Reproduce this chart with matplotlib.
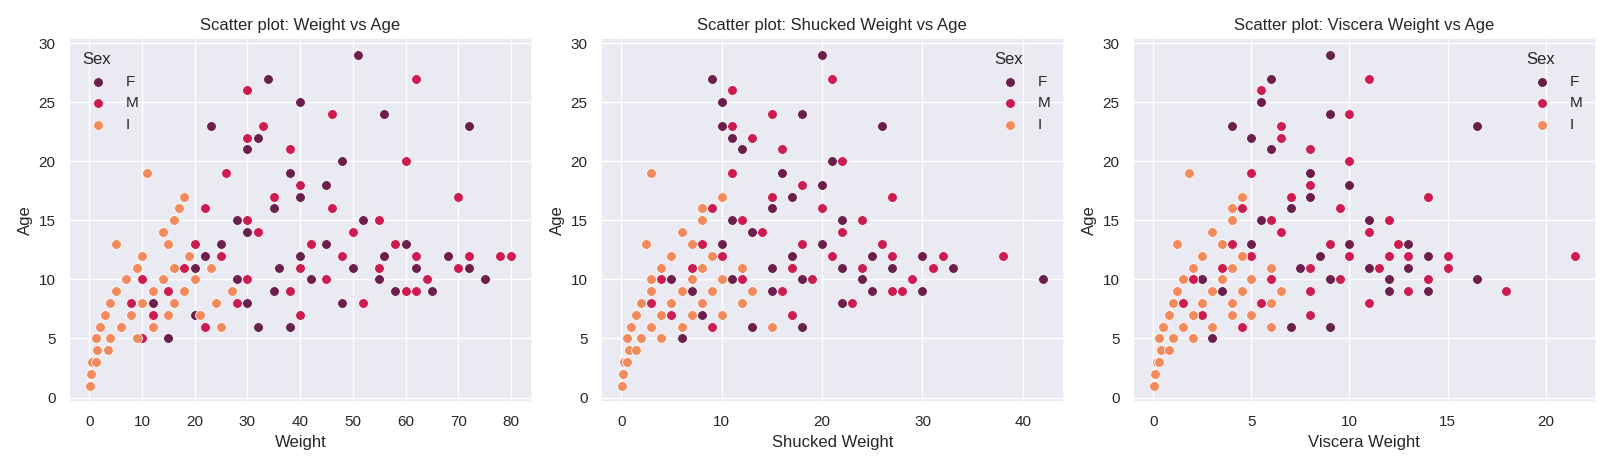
import matplotlib
matplotlib.use("Agg")
import matplotlib.pyplot as plt
import seaborn as sns

sns.set_theme(style="darkgrid")
plt.rcParams['font.family'] = ['Liberation Sans', 'DejaVu Sans']

sexes = ["F", "M", "I"]

# ages per sex (shared by the three panels)
f_age = [5, 6, 6, 7, 8, 8, 8, 9, 9, 9, 9, 10, 10, 10, 10, 10, 11, 11, 11, 11, 11, 12, 12, 12, 12,
         13, 13, 13, 14, 14, 15, 15, 16, 17, 18, 19, 20, 21, 22, 23, 23, 24, 25, 27, 29]
m_age = [5, 6, 7, 7, 8, 8, 8, 9, 9, 9, 10, 10, 10, 10, 11, 11, 11, 11, 12, 12, 12, 12, 13, 13, 13,
         14, 14, 15, 15, 16, 16, 17, 17, 18, 19, 20, 21, 22, 23, 24, 26, 27, 9, 12, 12]
i_age = [1, 2, 3, 3, 4, 4, 5, 5, 5, 6, 6, 6, 6, 7, 7, 7, 7, 8, 8, 8, 8, 9, 9, 9, 9, 10, 10, 10,
         11, 11, 11, 12, 12, 13, 13, 14, 15, 16, 17, 19]

f_weight = [15, 32, 38, 20, 12, 30, 48, 18, 35, 58, 65, 14, 28, 42, 55, 75, 20, 36, 50, 62, 72, 22, 40, 56, 68,
            25, 45, 60, 30, 50, 28, 52, 35, 40, 45, 38, 48, 30, 32, 23, 72, 56, 40, 34, 51]
m_weight = [10, 22, 12, 40, 8, 28, 52, 15, 38, 60, 10, 30, 45, 64, 18, 40, 55, 70, 25, 48, 62, 78, 20, 42, 58,
            32, 50, 30, 55, 22, 46, 35, 70, 40, 26, 60, 38, 30, 33, 46, 30, 62, 62, 72, 80]
i_weight = [0.1, 0.3, 0.6, 1.2, 1.5, 3.5, 1.2, 4, 9, 2, 6, 12, 25, 3, 8, 15, 21, 4, 10, 16, 24, 5, 12, 18, 27,
            7, 14, 20, 9, 16, 23, 10, 19, 5, 15, 14, 16, 17, 18, 11]

f_shucked = [6, 13, 18, 8, 5, 12, 22, 7, 15, 25, 30, 5, 11, 18, 24, 42, 8, 15, 22, 27, 33, 9, 17, 25, 30,
             10, 20, 26, 13, 22, 11, 22, 15, 17, 20, 16, 21, 12, 11, 10, 26, 18, 10, 9, 20]
m_shucked = [4, 9, 5, 17, 3, 12, 23, 6, 16, 27, 4, 12, 19, 29, 7, 17, 24, 31, 10, 21, 27, 38, 8, 18, 26,
             14, 22, 12, 24, 9, 20, 15, 27, 18, 11, 22, 16, 13, 11, 15, 11, 21, 28, 32, 38]
i_shucked = [0.05, 0.2, 0.3, 0.6, 0.8, 1.5, 0.6, 2, 4, 1, 3, 6, 15, 1.5, 4, 7, 10, 2, 5, 8, 12, 3, 6, 9, 13,
             3, 7, 10, 4, 8, 12, 5, 9, 2.5, 7, 6, 8, 8, 10, 3]

f_viscera = [3, 7, 9, 4, 2.5, 6, 11, 3.5, 8, 12, 14, 2.5, 6, 9, 12, 16.5, 4, 7.5, 11, 13, 15, 4.5, 8.5, 12, 14,
             5, 10, 13, 6.5, 11, 5.5, 11, 7, 8, 10, 8, 10, 6, 5, 4, 16.5, 9, 5.5, 6, 9]
m_viscera = [2, 4.5, 2.5, 8, 1.5, 5.5, 11, 3, 8, 13, 2, 6, 9.5, 14, 3.5, 8, 11.5, 15, 5, 10, 13, 21.5, 4, 9, 12.5,
             6.5, 11, 6, 12, 4.5, 9.5, 7, 14, 8, 5, 10, 8, 6.5, 6.5, 10, 5.5, 11, 18, 15, 12]
i_viscera = [0.02, 0.1, 0.2, 0.3, 0.4, 0.8, 0.3, 1, 2, 0.5, 1.5, 3, 6, 0.8, 2, 4, 5, 1, 2.5, 4, 6, 1.2, 3, 4.5, 6.5,
             1.5, 3.5, 5, 2, 4, 6, 2.5, 4.5, 1.2, 3.5, 3, 4, 4, 4.5, 1.8]

panels = [
    ("Weight", [f_weight, m_weight, i_weight], "upper left"),
    ("Shucked Weight", [f_shucked, m_shucked, i_shucked], "upper right"),
    ("Viscera Weight", [f_viscera, m_viscera, i_viscera], "upper right"),
]
ages = [f_age, m_age, i_age]
colors = ["#6b1f4c", "#cc1c52", "#f18a5c"]

fig, axes = plt.subplots(1, 3, figsize=(16.14, 4.68), dpi=100)
for ax, (name, xs, loc) in zip(axes, panels):
    for sex, x, y, c in zip(sexes, xs, ages, colors):
        ax.scatter(x, y, s=50, color=c, edgecolor="white", linewidth=0.6, label=sex)
    ax.set_title(f"Scatter plot: {name} vs Age")
    ax.set_xlabel(name)
    ax.set_ylabel("Age")
    ax.set_yticks([0, 5, 10, 15, 20, 25, 30])
    leg = ax.legend(title="Sex", loc=loc, frameon=False)
    leg._legend_box.align = "left"

plt.tight_layout()
plt.savefig("out.png")
